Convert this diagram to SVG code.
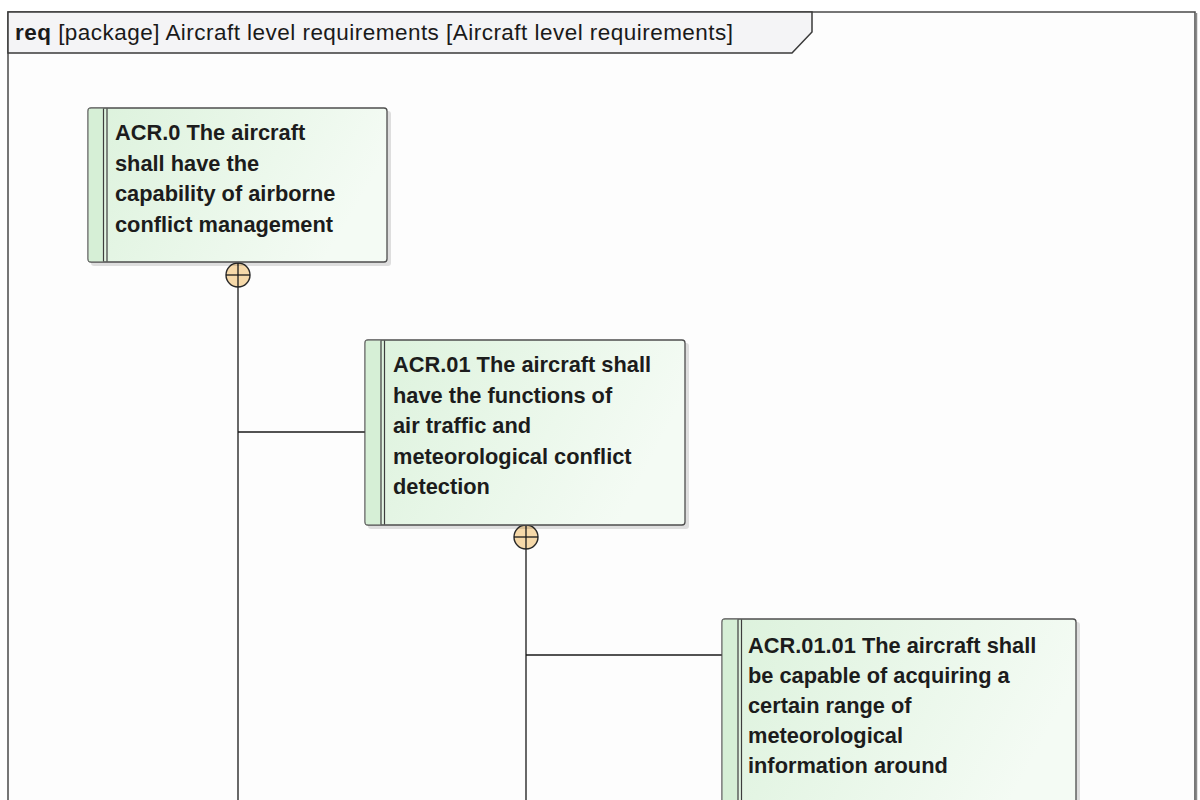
<svg xmlns="http://www.w3.org/2000/svg" width="1200" height="800" viewBox="0 0 1200 800">
  <defs>
    <linearGradient id="reqFill" x1="0" y1="0" x2="1" y2="0.3">
      <stop offset="0" stop-color="#dcf2dc"/>
      <stop offset="1" stop-color="#f4fbf4"/>
    </linearGradient>
    <style>
      .frame { fill: #fdfdfd; stroke: #4a4a4a; stroke-width: 1.5; }
      .tab { fill: #f4f4f6; stroke: #3a3a3a; stroke-width: 1.5; }
      .title { font-family: "Liberation Sans", Arial, sans-serif; font-size: 22.5px; fill: #1a1a1a; }
      .shadow { fill: #000; opacity: 0.12; }
      .box { fill: url(#reqFill); stroke: #4d4d4d; stroke-width: 1.3; }
      .strip { fill: #d6efd6; }
      .bar { stroke: #3d3d3d; stroke-width: 1.2; }
      .label { font-family: "Liberation Sans", Arial, sans-serif; font-size: 21.8px; font-weight: bold; fill: #1c1c1c; }
      .wire { stroke: #1a1a1a; stroke-width: 1.3; fill: none; }
      .anchor { fill: #f6d9a9; stroke: #2a2a2a; stroke-width: 1.4; }
    </style>
  </defs>

  <rect width="1200" height="800" fill="#ffffff"/>

  <!-- diagram frame and header tab -->
  <g id="frame">
    <rect class="frame" x="8" y="12" width="1187" height="800"/>
    <line x1="1196.5" y1="13" x2="1196.5" y2="800" stroke="#8a8a8a" stroke-width="1.5"/>
    <polygon class="tab" points="8,12 812,12 812,32 792,53 8,53"/>
    <text class="title" x="15" y="40" textLength="718" lengthAdjust="spacing"><tspan font-weight="bold">req</tspan> [package] Aircraft level requirements [Aircraft level requirements]</text>
  </g>

  <!-- containment connectors -->
  <g id="connectors">
    <line class="wire" x1="238" y1="287" x2="238" y2="800"/>
    <line class="wire" x1="238" y1="432" x2="365" y2="432"/>
    <line class="wire" x1="526" y1="549" x2="526" y2="800"/>
    <line class="wire" x1="526" y1="655" x2="722" y2="655"/>
    <g id="anchor-acr0">
      <circle class="anchor" cx="238" cy="275" r="12"/>
      <line class="wire" x1="226" y1="275" x2="250" y2="275"/>
      <line class="wire" x1="238" y1="263" x2="238" y2="287"/>
    </g>
    <g id="anchor-acr01">
      <circle class="anchor" cx="526" cy="537" r="12"/>
      <line class="wire" x1="514" y1="537" x2="538" y2="537"/>
      <line class="wire" x1="526" y1="525" x2="526" y2="549"/>
    </g>
  </g>

  <!-- ACR.0 -->
  <g id="acr-0">
    <rect class="shadow" x="91" y="111" width="300" height="155" rx="3"/>
    <rect class="box" x="88" y="108" width="299" height="154" rx="3"/>
    <rect class="strip" x="88.7" y="108.7" width="15" height="152.6"/>
    <line class="bar" x1="103.5" y1="108.5" x2="103.5" y2="261.5"/>
    <line class="bar" x1="107" y1="108.5" x2="107" y2="261.5"/>
    <text class="label" x="115" y="140">ACR.0 The aircraft</text>
    <text class="label" x="115" y="170.5">shall have the</text>
    <text class="label" x="115" y="201">capability of airborne</text>
    <text class="label" x="115" y="231.5">conflict management</text>
  </g>

  <!-- ACR.01 -->
  <g id="acr-01">
    <rect class="shadow" x="368" y="343" width="321" height="186" rx="3"/>
    <rect class="box" x="365" y="340" width="320" height="185" rx="3"/>
    <rect class="strip" x="365.7" y="340.7" width="15" height="183.6"/>
    <line class="bar" x1="381" y1="340.5" x2="381" y2="524.5"/>
    <line class="bar" x1="384.5" y1="340.5" x2="384.5" y2="524.5"/>
    <text class="label" x="393" y="372">ACR.01 The aircraft shall</text>
    <text class="label" x="393" y="402.5">have the functions of</text>
    <text class="label" x="393" y="433">air traffic and</text>
    <text class="label" x="393" y="463.5">meteorological conflict</text>
    <text class="label" x="393" y="494">detection</text>
  </g>

  <!-- ACR.01.01 -->
  <g id="acr-01-01">
    <rect class="shadow" x="725" y="622" width="355" height="200" rx="3"/>
    <rect class="box" x="722" y="619" width="354" height="200" rx="3"/>
    <rect class="strip" x="722.7" y="619.7" width="15" height="198"/>
    <line class="bar" x1="738" y1="619.5" x2="738" y2="819"/>
    <line class="bar" x1="741.5" y1="619.5" x2="741.5" y2="819"/>
    <text class="label" x="748" y="653">ACR.01.01 The aircraft shall</text>
    <text class="label" x="748" y="683">be capable of acquiring a</text>
    <text class="label" x="748" y="713">certain range of</text>
    <text class="label" x="748" y="743">meteorological</text>
    <text class="label" x="748" y="773">information around</text>
  </g>
</svg>
